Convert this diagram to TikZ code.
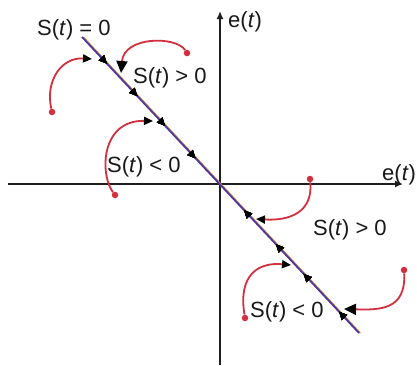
\documentclass[tikz,border=0pt]{standalone}
\usepackage{fontspec}
\setmainfont{Liberation Sans}
\usetikzlibrary{arrows.meta,decorations.markings}
\definecolor{axisc}{HTML}{1E1E1E}
\definecolor{slide}{HTML}{4E3A9C}
\definecolor{halo}{HTML}{D9893A}
\definecolor{traj}{HTML}{D2303F}
\begin{document}
\begin{tikzpicture}[x=1pt,y=-1pt,
  axis/.style={draw=axisc,line width=2.8pt,-{Latex[length=8pt,width=7pt]}},
  lbl/.style={inner sep=0pt,anchor=base west,font=\fontsize{22}{24}\selectfont,text=black!90},
  dotn/.style={circle,fill=traj,inner sep=0pt,minimum size=6.5pt},
  trajline/.style={draw=traj,line width=1.8pt,-{Triangle[length=9pt,width=8pt,color=black]}},
  bigtraj/.style={draw=traj,line width=1.8pt,-{Triangle[length=12pt,width=11pt,color=black]}},
  fwd/.style={postaction={decorate},decoration={markings,
     mark=at position #1 with {\arrow{Triangle[length=8pt,width=7pt,color=black]}}}},
  bwd/.style={postaction={decorate},decoration={markings,
     mark=at position #1 with {\arrowreversed{Triangle[length=8pt,width=7pt,color=black]}}}}
]
\useasboundingbox (0,0) rectangle (417,365);
\fill[white] (0,0) rectangle (417,365);
% axes
\coordinate (xl) at (8,184);
\coordinate (xr) at (403,184);
\coordinate (yb) at (220,365);
\coordinate (yt) at (220,11);
\draw[axis] (xl) -- (xr);
\draw[axis] (yb) -- (yt);
\node[lbl] (ey) at (228,27) {e(\textit{t})};
\node[lbl] (ex) at (382,180) {e(\textit{t})};
% sliding line
\coordinate (la) at (82,37);
\coordinate (lb) at (359,333);
\draw[halo,line width=1.3pt] ([xshift=1.3pt]la) -- ([xshift=1.3pt]lb);
\draw[slide,line width=1.8pt,
  fwd=0.09,fwd=0.2,fwd=0.30,fwd=0.41,
  bwd=0.585,bwd=0.70,bwd=0.80,bwd=0.928] (la) -- (lb);
% trajectories
\node[dotn] (d1) at (52,112) {};
\coordinate (e1) at (92,59);
\draw[trajline] (d1) .. controls (45,80) and (62,57) .. (e1);
\node[dotn] (d2) at (187,53) {};
\coordinate (e2) at (121,73);
\draw[bigtraj] (d2) .. controls (176,36) and (124,36) .. (e2);
\node[dotn] (d3) at (115,195) {};
\coordinate (e3) at (153,121);
\draw[trajline] (d3) .. controls (100,175) and (100,120) .. (e3);
\node[dotn] (d4) at (310,179) {};
\coordinate (e4) at (256,219);
\draw[trajline] (d4) .. controls (313,212) and (290,221) .. (e4);
\node[dotn] (d5) at (245,318) {};
\coordinate (e5) at (291,265);
\draw[trajline] (d5) .. controls (238,275) and (258,262) .. (e5);
\node[dotn] (d6) at (404,270) {};
\coordinate (e6) at (344,309);
\draw[bigtraj] (d6) .. controls (406,310) and (380,310) .. (e6);
% labels
\node[lbl] (s0) at (37,35) {S(\textit{t}) = 0};
\node[lbl] (sp1) at (133,83) {S(\textit{t}) > 0};
\node[lbl] (sn1) at (107,172) {S(\textit{t}) < 0};
\node[lbl] (sp2) at (313,235) {S(\textit{t}) > 0};
\node[lbl] (sn2) at (250,317) {S(\textit{t}) < 0};
\end{tikzpicture}
\end{document}
